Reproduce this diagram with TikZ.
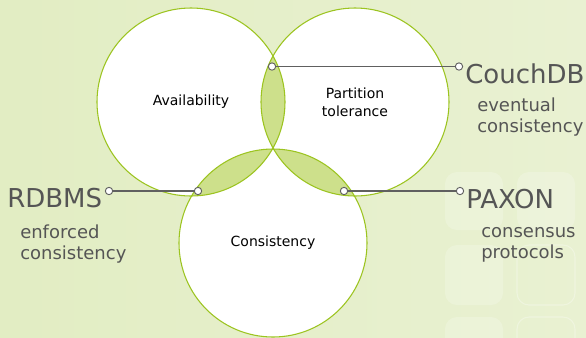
\documentclass[tikz,border=0pt]{standalone}
\usepackage{fontspec}
\setmainfont{DejaVu Sans}
\definecolor{bgA}{HTML}{E2EDC3}
\definecolor{bgB}{HTML}{E9F1D2}
\definecolor{lensc}{HTML}{CDE08B}
\definecolor{ringc}{HTML}{9CC420}
\definecolor{txtg}{HTML}{555555}
\definecolor{connc}{HTML}{606060}
\begin{document}
\begin{tikzpicture}[x=0.75pt,y=-0.75pt,
  venn/.style={circle, fill=white, minimum size=141pt, inner sep=0pt, align=center,
    font=\fontsize{10.5pt}{13.5pt}\selectfont, text=black},
  ring/.style={draw=ringc, line width=0.8pt},
  dot/.style={circle, draw=connc, fill=white, line width=0.7pt, minimum size=5.5pt, inner sep=0pt},
  conn/.style={draw=connc, line width=1.1pt},
  big/.style={font=\fontsize{19.5pt}{22pt}\selectfont, text=txtg, inner sep=0pt, anchor=base west},
  small/.style={font=\fontsize{13.5pt}{16pt}\selectfont, text=txtg, inner sep=0pt, anchor=base west},
  deco/.style={fill=white, fill opacity=0.2, rounded corners=9pt},
  decoline/.style={draw=white, draw opacity=0.3, line width=0.8pt, rounded corners=9pt}
]
\useasboundingbox (0,0) rectangle (586,337);
\clip (0,0) rectangle (586,337);
\shade[left color=bgA, right color=bgB] (0,0) rectangle (586,337);
% decorative squares
\fill[deco] (445,172) rectangle (503,230);
\fill[deco] (517,172) rectangle (575,230);
\fill[deco] (445,245) rectangle (503,305);
\draw[decoline] (517,245) rectangle (575,305);
\fill[deco] (445,317) rectangle (503,377);
\draw[decoline] (517,317) rectangle (575,377);
% circles
\node[venn] (avail) at (191,102) {Availability};
\node[venn] (part) at (355,102) {Partition\\tolerance};
\node[venn] (cons) at (273,243) {Consistency};
% lenses
\begin{scope}
  \clip (avail.center) circle[radius=70.5pt];
  \fill[lensc] (part.center) circle[radius=70.5pt];
\end{scope}
\begin{scope}
  \clip (avail.center) circle[radius=70.5pt];
  \fill[lensc] (cons.center) circle[radius=70.5pt];
\end{scope}
\begin{scope}
  \clip (part.center) circle[radius=70.5pt];
  \fill[lensc] (cons.center) circle[radius=70.5pt];
\end{scope}
\foreach \n in {avail,part,cons} \draw[ring] (\n.center) circle[radius=70.5pt];
% connectors
\node[dot] (pA) at (272,66.5) {};
\node[dot] (pB) at (459,66.5) {};
\node[dot] (qA) at (198,191) {};
\node[dot] (qB) at (109,191) {};
\node[dot] (rA) at (344,191) {};
\node[dot] (rB) at (460,191) {};
\draw[conn] (pA) -- (pB);
\draw[conn] (qA) -- (qB);
\draw[conn] (rA) -- (rB);
% labels
\node[big] (rdbms) at (7,207) {RDBMS};
\node[small] (rd1) at (20,238) {enforced};
\node[small] (rd2) at (20,259) {consistency};
\node[big] (couch) at (465,83) {CouchDB};
\node[small] (cd1) at (477,111) {eventual};
\node[small] (cd2) at (477,132) {consistency};
\node[big] (paxon) at (466,208) {PAXON};
\node[small] (px1) at (481,237) {consensus};
\node[small] (px2) at (481,258) {protocols};
\end{tikzpicture}
\end{document}
